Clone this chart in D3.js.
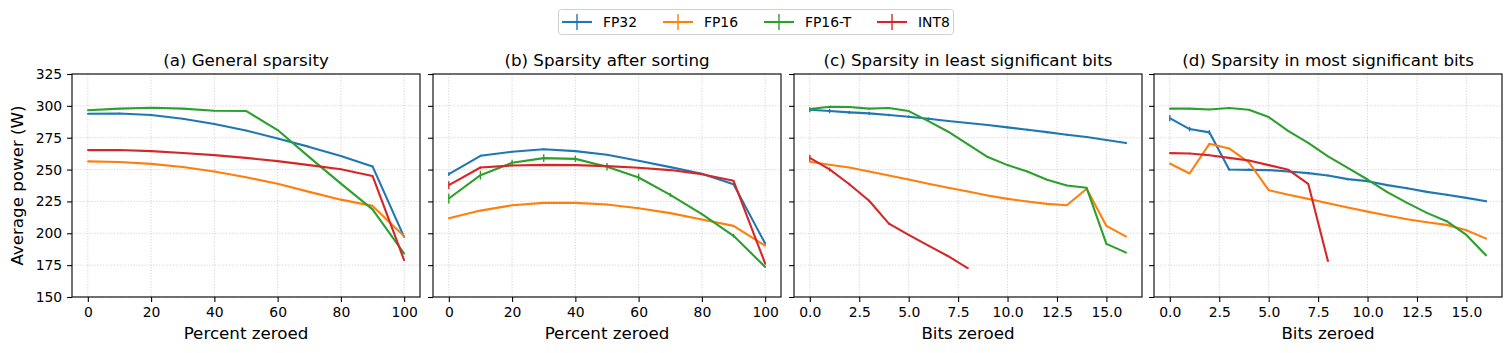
<!DOCTYPE html>
<html>
<head>
<meta charset="utf-8">
<script src="https://cdn.jsdelivr.net/npm/d3@7"></script>
<style>
  body { margin: 0; background: #fff; }
  svg { display: block; font-family: "DejaVu Sans", sans-serif; }
</style>
</head>
<body>
<svg id="chart" width="1511" height="353"></svg>
<script>
// ------------------------------
// DATA
// ------------------------------
const seriesNames = ["FP32", "FP16", "FP16-T", "INT8"];
const seriesColors = ["#1f77b4", "#ff7f0e", "#2ca02c", "#d62728"];

const percentZeroed = [0, 10, 20, 30, 40, 50, 60, 70, 80, 90, 100];
const bitsZeroed = [0, 1, 2, 3, 4, 5, 6, 7, 8, 9, 10, 11, 12, 13, 14, 15, 16];
const bitsZeroedInt8 = [0, 1, 2, 3, 4, 5, 6, 7, 8];

const percentTicks = [0, 20, 40, 60, 80, 100];
const bitsTicks = [0, 2.5, 5, 7.5, 10, 12.5, 15];
const powerTicks = [150, 175, 200, 225, 250, 275, 300, 325];

// (a) General sparsity
const generalFP32  = [293.8, 294.0, 292.8, 289.9, 285.7, 280.7, 274.4, 267.8, 260.6, 252.5, 197.0];
const generalFP16  = [256.4, 256.0, 254.5, 252.0, 248.5, 244.0, 238.8, 232.5, 226.4, 221.5, 197.7];
const generalFP16T = [296.5, 297.8, 298.5, 297.8, 296.2, 296.0, 281.0, 259.8, 239.0, 218.8, 184.0];
const generalINT8  = [265.3, 265.3, 264.5, 263.0, 261.3, 259.2, 256.6, 253.5, 250.3, 245.0, 178.8];

// (b) Sparsity after sorting
const sortedFP32  = [246.4, 260.8, 264.0, 266.0, 264.5, 261.6, 256.9, 251.9, 246.7, 238.5, 191.9];
const sortedFP16  = [211.8, 217.8, 222.0, 223.9, 223.9, 222.6, 219.7, 215.8, 210.8, 205.8, 190.3];
const sortedFP16T = [227.3, 245.6, 255.3, 259.0, 258.4, 252.2, 243.8, 230.2, 215.0, 198.0, 173.6];
const sortedINT8  = [237.8, 251.6, 253.2, 253.7, 253.5, 252.7, 251.4, 249.6, 246.4, 241.2, 176.2];
const sortedFP32Err  = [1.5, 0.8, 0.6, 0.6, 0.6, 0.6, 0.6, 0.6, 0.6, 0.6, 0.8];
const sortedFP16TErr = [4.0, 3.5, 2.5, 3.0, 2.5, 3.0, 3.0, 1.5, 0.8, 1.5, 0.8];
const sortedINT8Err  = [3.0, 0.8, 0.6, 0.6, 0.6, 0.6, 0.6, 0.6, 0.6, 0.6, 0.8];

// (c) Sparsity in least significant bits
const lsbFP32  = [297.0, 296.0, 294.9, 294.1, 292.8, 291.5, 289.9, 288.1, 286.5, 285.0, 283.1, 281.3, 279.4, 277.3, 275.5, 273.2, 270.8];
const lsbFP16  = [256.1, 253.8, 251.6, 248.5, 245.4, 242.2, 238.8, 235.7, 232.8, 229.6, 227.0, 225.0, 223.1, 222.0, 234.9, 205.8, 197.4];
const lsbFP16T = [297.5, 299.3, 299.1, 297.8, 298.3, 295.9, 288.0, 279.7, 269.7, 259.8, 253.5, 248.5, 242.0, 237.5, 235.7, 191.7, 184.8];
const lsbINT8  = [259.2, 250.1, 238.5, 225.5, 207.6, 198.7, 190.3, 182.0, 172.5];
const lsbFP32Err = [2.0, 1.8, 1.2, 1.2, 1.0, 1.0, 1.0, 0.8, 0.8, 0.8, 0.8, 0.8, 0.8, 0.8, 0.8, 0.8, 0.8];
const lsbINT8Err = [2.5, 1.5, 1.0, 0.8, 0.8, 0.6, 0.6, 0.6, 0.6];

// (d) Sparsity in most significant bits
const msbFP32  = [290.4, 281.8, 279.2, 250.1, 249.8, 249.6, 248.5, 247.2, 245.4, 242.5, 240.9, 237.8, 235.4, 232.5, 230.2, 227.8, 225.2];
const msbFP16  = [254.8, 246.9, 270.2, 266.6, 255.6, 233.8, 230.2, 227.0, 223.6, 220.2, 217.0, 213.9, 211.0, 208.7, 206.6, 202.4, 195.8];
const msbFP16T = [297.8, 297.8, 297.2, 298.3, 297.0, 291.2, 280.2, 271.0, 260.3, 251.4, 242.2, 232.3, 223.9, 216.0, 209.5, 198.7, 182.5];
const msbINT8  = [262.9, 262.6, 261.3, 259.2, 257.1, 253.5, 249.8, 238.8, 178.0];
const msbFP32Err = [2.4, 1.8, 1.8, 1.0, 1.0, 0.8, 0.8, 0.8, 0.8, 0.8, 0.8, 0.8, 0.8, 0.8, 0.8, 0.8, 0.8];

const panelTitles = [
  "(a) General sparsity",
  "(b) Sparsity after sorting",
  "(c) Sparsity in least significant bits",
  "(d) Sparsity in most significant bits"
];
const xLabels = ["Percent zeroed", "Percent zeroed", "Bits zeroed", "Bits zeroed"];

// ------------------------------
// PANEL TABLE (built from the arrays above)
// ------------------------------
function mk(xs, ys, errs) {
  return ys.map((y, i) => ({ x: xs[i], y: y, e: errs ? errs[i] : 0.6 }));
}

const panels = [
  {
    xDomain: [-5, 105], ticks: percentTicks, fmt: d3.format("d"),
    series: [mk(percentZeroed, generalFP32), mk(percentZeroed, generalFP16),
             mk(percentZeroed, generalFP16T), mk(percentZeroed, generalINT8)]
  },
  {
    xDomain: [-5, 105], ticks: percentTicks, fmt: d3.format("d"),
    series: [mk(percentZeroed, sortedFP32, sortedFP32Err), mk(percentZeroed, sortedFP16),
             mk(percentZeroed, sortedFP16T, sortedFP16TErr), mk(percentZeroed, sortedINT8, sortedINT8Err)]
  },
  {
    xDomain: [-0.8, 16.8], ticks: bitsTicks, fmt: d3.format(".1f"),
    series: [mk(bitsZeroed, lsbFP32, lsbFP32Err), mk(bitsZeroed, lsbFP16),
             mk(bitsZeroed, lsbFP16T), mk(bitsZeroedInt8, lsbINT8, lsbINT8Err)]
  },
  {
    xDomain: [-0.8, 16.8], ticks: bitsTicks, fmt: d3.format(".1f"),
    series: [mk(bitsZeroed, msbFP32, msbFP32Err), mk(bitsZeroed, msbFP16),
             mk(bitsZeroed, msbFP16T), mk(bitsZeroedInt8, msbINT8)]
  }
];

// ------------------------------
// LAYOUT
// ------------------------------
const svg = d3.select("#chart");
const panelLefts = [72, 433, 794, 1154];
const panelWidth = 348;
const plotTop = 74;
const plotBottom = 297;

const y = d3.scaleLinear().domain([150, 325]).range([plotBottom, plotTop]);

panels.forEach((p, pi) => {
  const left = panelLefts[pi];
  const x = d3.scaleLinear().domain(p.xDomain).range([left, left + panelWidth]);
  const g = svg.append("g");

  // grid
  g.append("g").selectAll("line").data(p.ticks).enter().append("line")
    .attr("x1", d => x(d)).attr("x2", d => x(d))
    .attr("y1", plotTop).attr("y2", plotBottom)
    .attr("stroke", "#b0b0b0").attr("stroke-opacity", 0.6)
    .attr("stroke-width", 0.9).attr("stroke-dasharray", "1.2,1.6");
  g.append("g").selectAll("line").data(powerTicks).enter().append("line")
    .attr("x1", left).attr("x2", left + panelWidth)
    .attr("y1", d => y(d)).attr("y2", d => y(d))
    .attr("stroke", "#b0b0b0").attr("stroke-opacity", 0.6)
    .attr("stroke-width", 0.9).attr("stroke-dasharray", "1.2,1.6");

  // series
  const line = d3.line().x(d => x(d.x)).y(d => y(d.y));
  p.series.forEach((s, si) => {
    const sg = g.append("g");
    sg.append("path").datum(s)
      .attr("d", line).attr("fill", "none")
      .attr("stroke", seriesColors[si]).attr("stroke-width", 2.1)
      .attr("stroke-linejoin", "round");
    sg.selectAll("line").data(s).enter().append("line")
      .attr("x1", d => x(d.x)).attr("x2", d => x(d.x))
      .attr("y1", d => y(d.y - d.e)).attr("y2", d => y(d.y + d.e))
      .attr("stroke", seriesColors[si]).attr("stroke-width", 1.4);
  });

  // axes
  const xAxis = d3.axisBottom(x).tickValues(p.ticks).tickFormat(p.fmt).tickSize(4.9).tickPadding(4.9);
  const yAxis = d3.axisLeft(y).tickValues(powerTicks).tickSize(4.9).tickPadding(4.9)
    .tickFormat(pi === 0 ? d3.format("d") : () => "");

  const xa = g.append("g").attr("transform", `translate(0,${plotBottom})`).call(xAxis);
  const ya = g.append("g").attr("transform", `translate(${left},0)`).call(yAxis);
  [xa, ya].forEach(a => {
    a.select(".domain").remove();
    a.selectAll("line").attr("stroke", "#000").attr("stroke-width", 1.1);
    a.selectAll("text").attr("fill", "#000").style("font-size", "13.9px")
      .style("font-family", "DejaVu Sans, sans-serif");
  });

  // frame
  g.append("rect")
    .attr("x", left).attr("y", plotTop)
    .attr("width", panelWidth).attr("height", plotBottom - plotTop)
    .attr("fill", "none").attr("stroke", "#000").attr("stroke-width", 1.1);

  // title
  g.append("text")
    .attr("x", left + panelWidth / 2).attr("y", 66)
    .attr("text-anchor", "middle").style("font-size", "16.7px")
    .text(panelTitles[pi]);

  // x label
  g.append("text")
    .attr("x", left + panelWidth / 2).attr("y", 339)
    .attr("text-anchor", "middle").style("font-size", "16.7px")
    .text(xLabels[pi]);
});

// y label
svg.append("text")
  .attr("transform", `translate(23,${(plotTop + plotBottom) / 2}) rotate(-90)`)
  .attr("text-anchor", "middle").style("font-size", "16.7px")
  .text("Average power (W)");

// ------------------------------
// LEGEND
// ------------------------------
const legend = svg.append("g");
legend.append("rect")
  .attr("x", 558.5).attr("y", 9.5).attr("width", 395).attr("height", 25)
  .attr("rx", 3).attr("fill", "#fff")
  .attr("stroke", "#d0d0d0").attr("stroke-width", 1);

const legendX = [562, 663, 764, 877];
seriesNames.forEach((name, i) => {
  const lx = legendX[i];
  legend.append("line")
    .attr("x1", lx).attr("x2", lx + 30).attr("y1", 22).attr("y2", 22)
    .attr("stroke", seriesColors[i]).attr("stroke-width", 2.1);
  legend.append("line")
    .attr("x1", lx + 15).attr("x2", lx + 15).attr("y1", 14).attr("y2", 30)
    .attr("stroke", seriesColors[i]).attr("stroke-width", 1.4);
  legend.append("text")
    .attr("x", lx + 41).attr("y", 27)
    .style("font-size", "13.9px")
    .text(name);
});
</script>
</body>
</html>
